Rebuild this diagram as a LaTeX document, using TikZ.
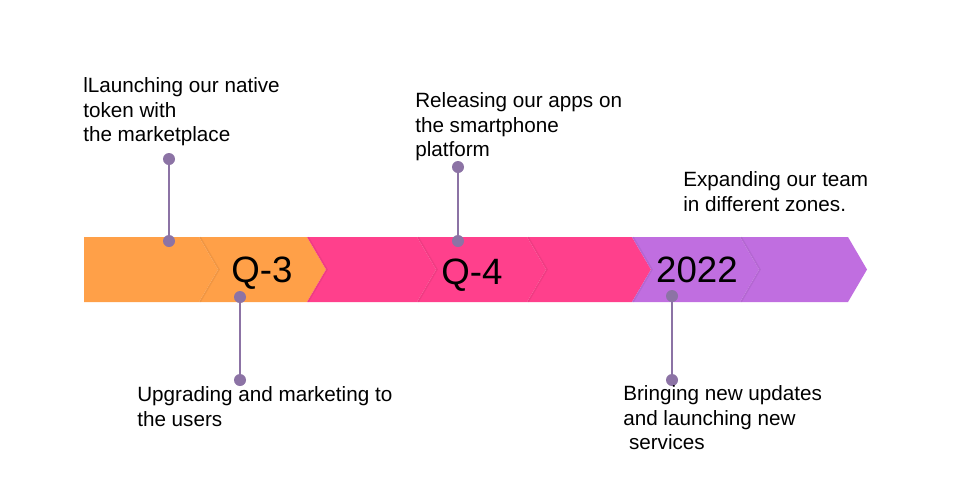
\documentclass[tikz,border=0pt]{standalone}
\usepackage{fontspec}
\setmainfont{Liberation Sans}
\definecolor{corange}{RGB}{255,160,72}
\definecolor{cpink}{RGB}{255,64,140}
\definecolor{cpurple}{RGB}{192,110,224}
\definecolor{cdot}{RGB}{140,115,165}
\begin{document}
\begin{tikzpicture}[x=0.75pt,y=-0.75pt,
  dot/.style={circle,fill=cdot,inner sep=0pt,minimum size=9pt},
  stem/.style={draw=cdot,line width=1.5pt},
  lbl/.style={anchor=north west,inner sep=0pt,align=left,font=\fontsize{15.5}{18.6}\selectfont},
  big/.style={inner sep=0pt,font=\fontsize{27.5}{30}\selectfont}]
\path[use as bounding box] (0,0) rectangle (965,501);
\fill[white] (0,0) rectangle (965,501);
% chevrons
\def\d{19}
\fill[corange] (84,237) -- (199,237) -- (218,269.5) -- (199,302) -- (84,302) -- cycle;
\foreach \a/\b/\c in {199/307/corange,307/417/cpink,417/527/cpink,527/632/cpink,632/740/cpurple,740/848/cpurple}{
  \fill[\c] (\a,237) -- (\b,237) -- (\b+\d,269.5) -- (\b,302) -- (\a,302) -- (\a+\d,269.5) -- cycle;
  \draw[black,opacity=0.06,line width=1.2pt] (\a+1,237) -- (\a+\d+1,269.5) -- (\a+1,302);
}
% big labels
\node[big] (q3) at (262,273) {Q-3};
\node[big] (q4) at (472,275) {Q-4};
\node[big] (y22) at (697,270) {2022};
% dots and stems
\node[dot] (a1) at (169,159) {};
\node[dot] (a2) at (169,241) {};
\node[dot] (b1) at (240,297) {};
\node[dot] (b2) at (240,380) {};
\node[dot] (c1) at (458,167) {};
\node[dot] (c2) at (458,241) {};
\node[dot] (e1) at (672,296) {};
\node[dot] (e2) at (672,380) {};
\draw[stem] (a1) -- (a2);
\draw[stem] (b1) -- (b2);
\draw[stem] (c1) -- (c2);
\draw[stem] (e1) -- (e2);
% texts
\node[lbl] (t1) at (83,77) {lLaunching our native\\token with\\the marketplace};
\node[lbl] (t2) at (137,386) {Upgrading and marketing to\\the users};
\node[lbl] (t3) at (415,92) {Releasing our apps on\\the smartphone\\platform};
\node[lbl] (t4) at (683,171) {Expanding our team\\in different zones.};
\node[lbl] (t5) at (623,385) {Bringing new updates\\and launching new\\\ services};
\end{tikzpicture}
\end{document}
